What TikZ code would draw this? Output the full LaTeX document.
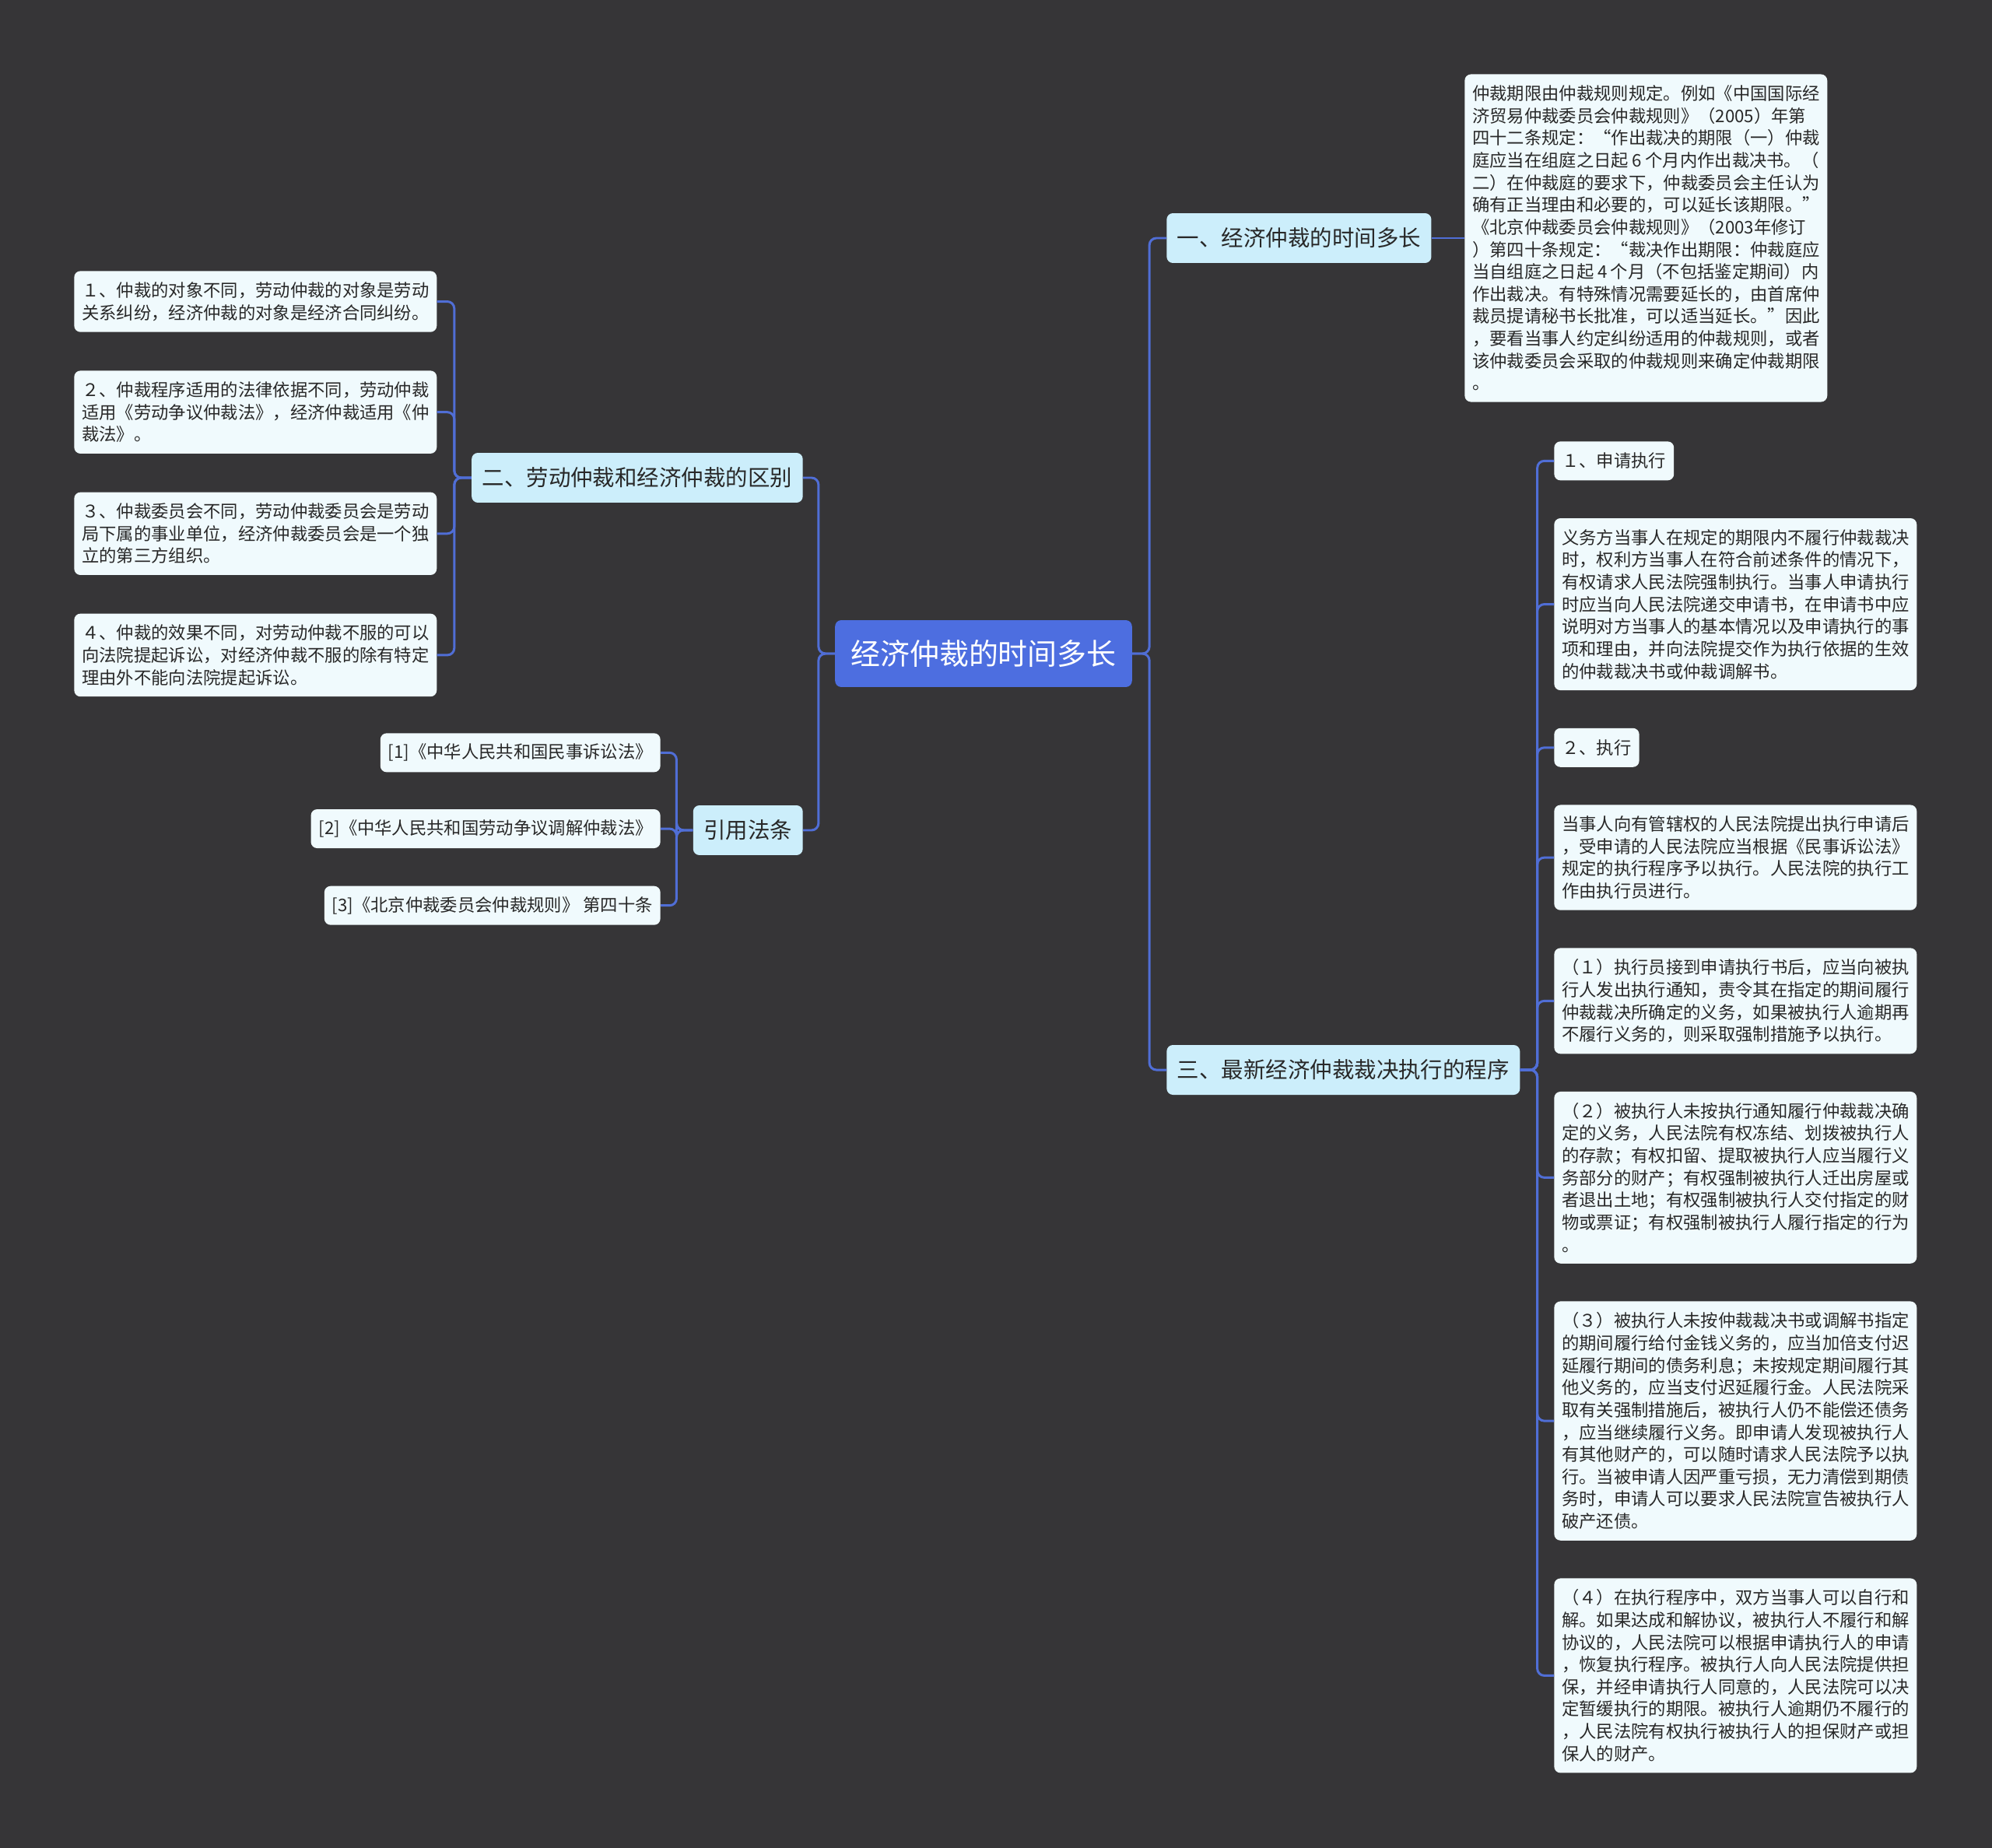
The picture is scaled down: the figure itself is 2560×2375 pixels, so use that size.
\documentclass[tikz,border=0pt]{standalone}
\usepackage{fontspec}
\setmainfont{Noto Sans CJK SC}
\usepackage{tikz}
\usetikzlibrary{positioning}
\definecolor{bgdark}{RGB}{54,53,55}
\definecolor{hubblue}{RGB}{77,110,224}
\definecolor{topicfill}{RGB}{204,238,251}
\definecolor{notefill}{RGB}{240,250,253}
\definecolor{linkblue}{RGB}{80,110,214}
\definecolor{inkgray}{RGB}{40,40,40}

\begin{document}
\begin{tikzpicture}[
    x=0.02cm, y=-0.02cm,
    hub/.style={rectangle, rounded corners=0.16cm, fill=hubblue, text=white,
                font=\fontsize{21.6}{26}\selectfont, minimum height=1.72cm, inner xsep=0.4cm},
    topic/.style={rectangle, rounded corners=0.16cm, fill=topicfill, text=inkgray,
                  font=\fontsize{16.2}{20}\selectfont, minimum height=1.28cm, inner xsep=0.27cm},
    note/.style={rectangle, rounded corners=0.16cm, fill=notefill, text=inkgray,
                 text width=8.92cm, align=left, font=\fontsize{12.7}{16.3}\selectfont,
                 inner xsep=0.2cm, inner ysep=0.285cm},
    cit/.style={rectangle, rounded corners=0.16cm, fill=notefill, text=inkgray,
                font=\fontsize{12.7}{16.3}\selectfont, minimum height=1.0cm,
                inner xsep=0.2cm, inner ysep=0.26cm},
    conn/.style={draw=linkblue, line width=1.7pt, rounded corners=0.18cm}
]
\useasboundingbox (0,0) rectangle (2560,2375);
\fill[bgdark] (0,0) rectangle (2560,2375);

\node[hub] (root) at (1264,840) {经济仲裁的时间多长};

% right side
\node[topic, anchor=west] (b1) at (1499,306) {一、经济仲裁的时间多长};
\node[note, anchor=west] (t1) at (1882,306) {仲裁期限由仲裁规则规定。例如《中国国际经\\济贸易仲裁委员会仲裁规则》（2005）年第\\四十二条规定：“作出裁决的期限（一）仲裁\\庭应当在组庭之日起\kern0.2em6\kern0.2em个月内作出裁决书。（\\二）在仲裁庭的要求下，仲裁委员会主任认为\\确有正当理由和必要的，可以延长该期限。”\\《北京仲裁委员会仲裁规则》（2003年修订\\）第四十条规定：“裁决作出期限：仲裁庭应\\当自组庭之日起\kern0.2em4\kern0.2em个月（不包括鉴定期间）内\\作出裁决。有特殊情况需要延长的，由首席仲\\裁员提请秘书长批准，可以适当延长。”因此\\，要看当事人约定纠纷适用的仲裁规则，或者\\该仲裁委员会采取的仲裁规则来确定仲裁期限\\。};

\node[topic, anchor=west] (b3) at (1499,1375) {三、最新经济仲裁裁决执行的程序};
\node[cit, anchor=north west] (s1) at (1997,567) {１、申请执行};
\node[note, below right=0.96cm and 0cm of s1.south west] (s1t) {义务方当事人在规定的期限内不履行仲裁裁决\\时，权利方当事人在符合前述条件的情况下，\\有权请求人民法院强制执行。当事人申请执行\\时应当向人民法院递交申请书，在申请书中应\\说明对方当事人的基本情况以及申请执行的事\\项和理由，并向法院提交作为执行依据的生效\\的仲裁裁决书或仲裁调解书。};
\node[cit, below right=0.96cm and 0cm of s1t.south west] (s2) {２、执行};
\node[note, below right=0.96cm and 0cm of s2.south west] (s2t) {当事人向有管辖权的人民法院提出执行申请后\\，受申请的人民法院应当根据《民事诉讼法》\\规定的执行程序予以执行。人民法院的执行工\\作由执行员进行。};
\node[note, below right=0.96cm and 0cm of s2t.south west] (p1) {（１）执行员接到申请执行书后，应当向被执\\行人发出执行通知，责令其在指定的期间履行\\仲裁裁决所确定的义务，如果被执行人逾期再\\不履行义务的，则采取强制措施予以执行。};
\node[note, below right=0.96cm and 0cm of p1.south west] (p2) {（２）被执行人未按执行通知履行仲裁裁决确\\定的义务，人民法院有权冻结、划拨被执行人\\的存款；有权扣留、提取被执行人应当履行义\\务部分的财产；有权强制被执行人迁出房屋或\\者退出土地；有权强制被执行人交付指定的财\\物或票证；有权强制被执行人履行指定的行为\\。};
\node[note, below right=0.96cm and 0cm of p2.south west] (p3) {（３）被执行人未按仲裁裁决书或调解书指定\\的期间履行给付金钱义务的，应当加倍支付迟\\延履行期间的债务利息；未按规定期间履行其\\他义务的，应当支付迟延履行金。人民法院采\\取有关强制措施后，被执行人仍不能偿还债务\\，应当继续履行义务。即申请人发现被执行人\\有其他财产的，可以随时请求人民法院予以执\\行。当被申请人因严重亏损，无力清偿到期债\\务时，申请人可以要求人民法院宣告被执行人\\破产还债。};
\node[note, below right=0.96cm and 0cm of p3.south west] (p4) {（４）在执行程序中，双方当事人可以自行和\\解。如果达成和解协议，被执行人不履行和解\\协议的，人民法院可以根据申请执行人的申请\\，恢复执行程序。被执行人向人民法院提供担\\保，并经申请执行人同意的，人民法院可以决\\定暂缓执行的期限。被执行人逾期仍不履行的\\，人民法院有权执行被执行人的担保财产或担\\保人的财产。};

% left side
\node[topic, anchor=east] (b2) at (1032,614) {二、劳动仲裁和经济仲裁的区别};
\node[note, anchor=north west] (d1) at (95,348) {１、仲裁的对象不同，劳动仲裁的对象是劳动\\关系纠纷，经济仲裁的对象是经济合同纠纷。};
\node[note, below right=0.98cm and 0cm of d1.south west] (d2) {２、仲裁程序适用的法律依据不同，劳动仲裁\\适用《劳动争议仲裁法》，经济仲裁适用《仲\\裁法》。};
\node[note, below right=0.98cm and 0cm of d2.south west] (d3) {３、仲裁委员会不同，劳动仲裁委员会是劳动\\局下属的事业单位，经济仲裁委员会是一个独\\立的第三方组织。};
\node[note, below right=0.98cm and 0cm of d3.south west] (d4) {４、仲裁的效果不同，对劳动仲裁不服的可以\\向法院提起诉讼，对经济仲裁不服的除有特定\\理由外不能向法院提起诉讼。};

\node[topic, anchor=east] (law) at (1032,1067) {引用法条};
\node[cit, anchor=north east] (r1) at (849,942) {[1]《中华人民共和国民事诉讼法》};
\node[cit, below left=0.94cm and 0cm of r1.south east] (r2) {[2]《中华人民共和国劳动争议调解仲裁法》};
\node[cit, below left=0.96cm and 0cm of r2.south east] (r3) {[3]《北京仲裁委员会仲裁规则》 第四十条};

% connectors
\draw[conn] (root.east) -- ++(22,0) |- (b1.west);
\draw[conn] (root.east) -- ++(22,0) |- (b3.west);
\draw[conn] (root.west) -- ++(-21,0) |- (b2.east);
\draw[conn] (root.west) -- ++(-21,0) |- (law.east);
\draw[conn] (b1.east) -- (t1.west);
\foreach \c in {s1,s1t,s2,s2t,p1,p2,p3,p4}
    \draw[conn] (b3.east) -- ++(22,0) |- (\c.west);
\foreach \c in {d1,d2,d3,d4}
    \draw[conn] (b2.west) -- ++(-22,0) |- (\c.east);
\foreach \c in {r1,r2,r3}
    \draw[conn] (law.west) -- ++(-21,0) |- (\c.east);
\end{tikzpicture}
\end{document}
